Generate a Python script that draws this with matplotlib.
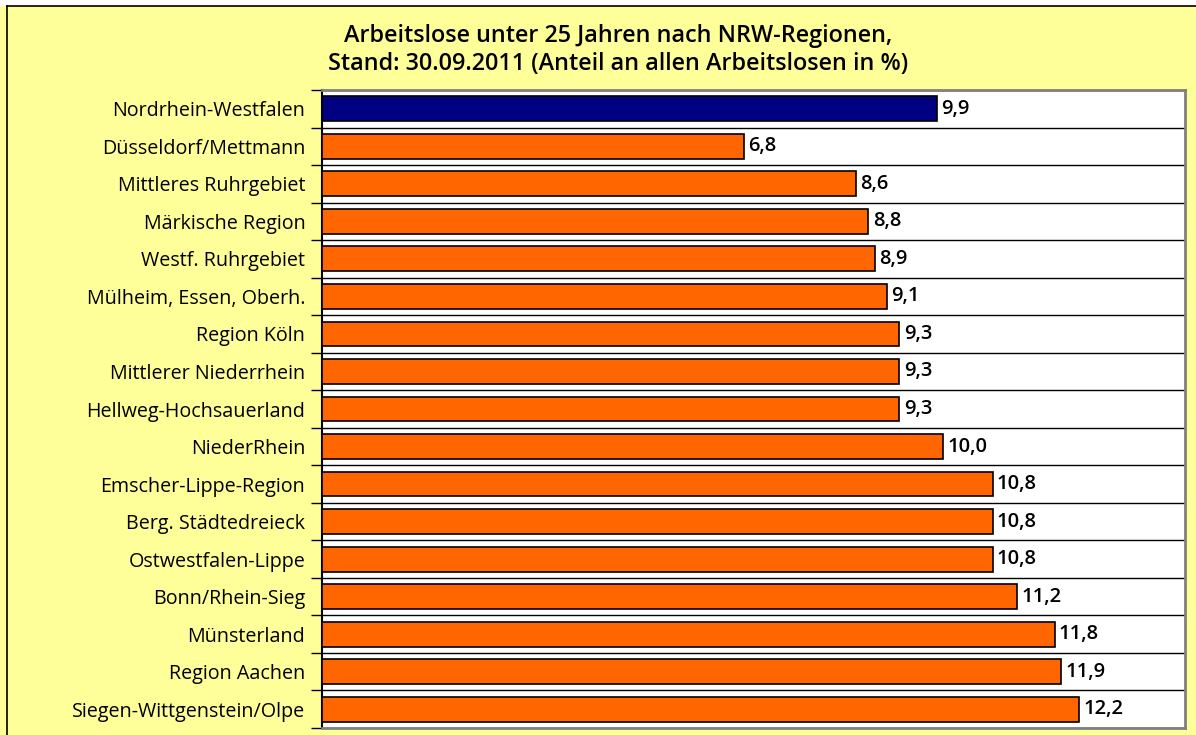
import matplotlib
matplotlib.use('Agg')
import matplotlib.pyplot as plt
from matplotlib.lines import Line2D

regionen = ['Nordrhein-Westfalen', 'Düsseldorf/Mettmann', 'Mittleres Ruhrgebiet',
            'Märkische Region', 'Westf. Ruhrgebiet', 'Mülheim, Essen, Oberh.',
            'Region Köln', 'Mittlerer Niederrhein', 'Hellweg-Hochsauerland',
            'NiederRhein', 'Emscher-Lippe-Region', 'Berg. Städtedreieck',
            'Ostwestfalen-Lippe', 'Bonn/Rhein-Sieg', 'Münsterland',
            'Region Aachen', 'Siegen-Wittgenstein/Olpe']
anteil = [9.9, 6.8, 8.6, 8.8, 8.9, 9.1, 9.3, 9.3, 9.3, 10.0, 10.8, 10.8, 10.8,
          11.2, 11.8, 11.9, 12.2]
farben = ['#000080'] + ['#FF6600'] * (len(anteil) - 1)

plt.rcParams['font.family'] = ['Open Sans', 'DejaVu Sans']

fig = plt.figure(figsize=(11.96, 7.35), dpi=100)
fig.patch.set_facecolor('#FFFF99')

# white strip and frame lines at top/left like the cropped page
fig.patches.append(plt.Rectangle((0, 1 - 6 / 735), 1, 6 / 735, transform=fig.transFigure,
                                 facecolor='white', edgecolor='none'))
fig.lines.append(Line2D([7 / 1196, 1], [1 - 6 / 735, 1 - 6 / 735], transform=fig.transFigure,
                        color='black', lw=1.2))
fig.lines.append(Line2D([7 / 1196, 7 / 1196], [0, 1 - 6 / 735], transform=fig.transFigure,
                        color='black', lw=1.2))

ax = fig.add_axes([322 / 1196, 1 - 728 / 735, (1185 - 322) / 1196, (728 - 90) / 735])
ax.set_facecolor('white')

n = len(regionen)
y = list(range(n))
ax.barh(y, anteil, height=0.66, color=farben, edgecolor='black', linewidth=1.2, zorder=3)

for yi, v in zip(y, anteil):
    ax.text(v + 0.07, yi, f'{v:.1f}'.replace('.', ','), va='center', ha='left',
            fontsize=14.5, fontweight='semibold', zorder=4)

ax.set_xlim(0, 13.9)
ax.set_ylim(n - 0.5, -0.5)
ax.set_xticks([])

# category boundaries as gridlines and ticks
grenzen = [i - 0.5 for i in range(n + 1)]
ax.set_yticks(grenzen, minor=False)
ax.set_yticklabels([])
ax.tick_params(axis='y', which='major', direction='out', length=8, width=1, color='black')
ax.set_yticks(y, minor=True)
ax.set_yticklabels(regionen, minor=True, fontsize=14.2)
ax.tick_params(axis='y', which='minor', length=0, pad=12)
ax.grid(axis='y', which='major', color='black', lw=1, zorder=1)

for s in ['top', 'right', 'bottom']:
    ax.spines[s].set_color('#808080')
    ax.spines[s].set_linewidth(2)
ax.spines['left'].set_color('black')
ax.spines['left'].set_linewidth(1.5)

fig.text(618 / 1196, 1 - 50 / 735,
         'Arbeitslose unter 25 Jahren nach NRW-Regionen,\nStand: 30.09.2011 (Anteil an allen Arbeitslosen in %)',
         ha='center', va='center', fontsize=16.8, fontweight='semibold', linespacing=1.2)

fig.savefig('out.png', dpi=100, facecolor=fig.get_facecolor())
